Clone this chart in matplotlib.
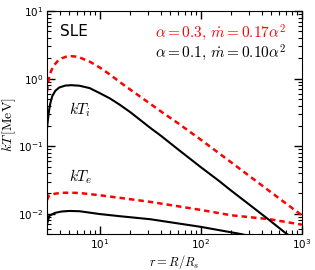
import numpy as np
import matplotlib.pyplot as plt

# ---------------------------
# data
# ---------------------------
r_ti_red = [3.0, 3.08, 3.16, 3.3, 3.5, 3.8, 4.2, 4.7, 5.2, 5.8, 6.3, 7.94, 10, 12.6, 15.8, 20,
            31.6, 40, 60, 100, 200, 400, 676, 1000]
ti_red = [0.64, 0.85, 1.07, 1.3, 1.55, 1.8, 2.0, 2.12, 2.15, 2.12, 2.06, 1.79, 1.46, 1.15, 0.89, 0.69,
          0.425, 0.33, 0.217, 0.125, 0.0577, 0.0265, 0.0147, 0.0095]

r_ti_blk = [3.0, 3.08, 3.16, 3.25, 3.39, 3.63, 3.98, 4.57, 5.25, 6.3, 7.94, 10, 12.6, 15.8, 20,
            31.6, 40, 60, 100, 150, 200, 300, 480, 700, 760]
ti_blk = [0.18, 0.26, 0.35, 0.44, 0.55, 0.66, 0.74, 0.79, 0.80, 0.785, 0.724, 0.61, 0.51, 0.41, 0.32,
          0.187, 0.144, 0.089, 0.049, 0.031, 0.022, 0.0138, 0.0080, 0.0051, 0.0047]

r_te_red = [3.0, 3.16, 3.6, 4.2, 5.0, 6.3, 10, 15.8, 31.6, 100, 200, 480, 1000]
te_red = [0.016, 0.0187, 0.0198, 0.0204, 0.0205, 0.0203, 0.0188, 0.0172, 0.015, 0.0114, 0.0095, 0.0083, 0.0069]

r_te_blk = [3.0, 3.16, 3.6, 4.2, 5.0, 6.3, 10, 15.8, 31.6, 100, 251, 300]
te_blk = [0.0069, 0.0093, 0.0103, 0.0108, 0.011, 0.0109, 0.0099, 0.0092, 0.0083, 0.0064, 0.005, 0.0047]

label_red = r"$\alpha=0.3,\,\dot{m}=0.17\alpha^2$"
label_blk = r"$\alpha=0.1,\,\dot{m}=0.10\alpha^2$"

# ---------------------------
# figure
# ---------------------------
fig = plt.figure(figsize=(3.15, 2.7), dpi=100)
ax = fig.add_axes([0.149, 0.133, 0.809, 0.826])

ax.plot(r_ti_red, ti_red, color='red', ls='--', lw=1.8, dashes=(2.2, 1.6))
ax.plot(r_te_red, te_red, color='red', ls='--', lw=1.8, dashes=(2.2, 1.6))
ax.plot(r_ti_blk, ti_blk, color='black', lw=1.5)
ax.plot(r_te_blk, te_blk, color='black', lw=1.5)

ax.set_xscale('log')
ax.set_yscale('log')
ax.set_xlim(3, 1000)
ax.set_ylim(5e-3, 10)

ax.tick_params(which='both', direction='in', top=True, right=True, labelsize=7.5, pad=2.5)
ax.tick_params(which='major', length=6, width=1)
ax.tick_params(which='minor', length=3, width=0.8)

ax.set_xlabel(r"$r=R/R_s$", fontsize=9, math_fontfamily='cm')
ax.set_ylabel(r"$kT\,[\mathrm{MeV}]$", fontsize=10, math_fontfamily='cm')
ax.xaxis.set_label_coords(0.5, -0.085)
ax.yaxis.set_label_coords(-0.112, 0.49)

ax.text(0.05, 0.91, "SLE", transform=ax.transAxes, fontsize=11, va='center')
ax.text(0.937, 0.901, label_red, transform=ax.transAxes, fontsize=11, color='red',
        ha='right', va='center', math_fontfamily='cm')
ax.text(0.937, 0.812, label_blk, transform=ax.transAxes, fontsize=11, color='black',
        ha='right', va='center', math_fontfamily='cm')
ax.text(5.0, 0.35, r"$kT_i$", fontsize=11, math_fontfamily='cm', ha='left', va='center')
ax.text(5.0, 0.035, r"$kT_e$", fontsize=11, math_fontfamily='cm', ha='left', va='center')

fig.savefig("out.png", dpi=100)
